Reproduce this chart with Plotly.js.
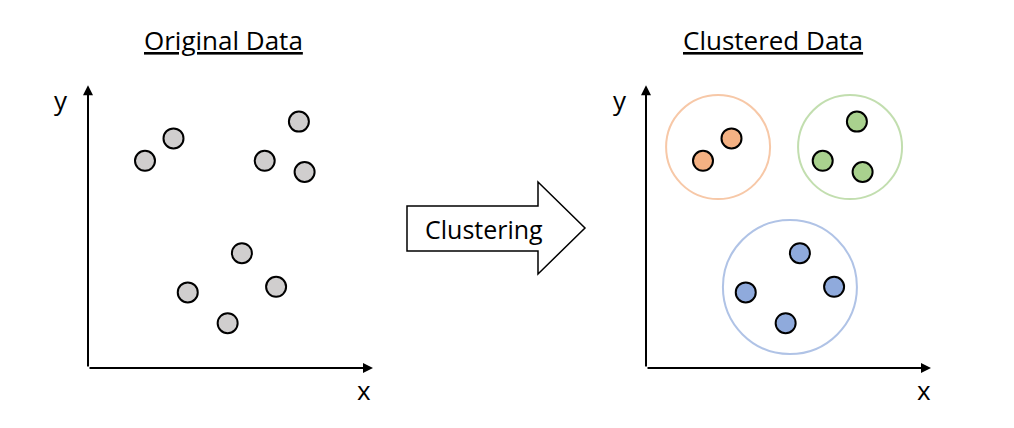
<!DOCTYPE html>
<html>
<head>
<meta charset="utf-8">
<script src="https://cdn.plot.ly/plotly-3.0.1.min.js"></script>
<style>html,body{margin:0;padding:0;background:#fff;}#chart{width:1014px;height:428px;}</style>
</head>
<body>
<div id="chart"></div>
<script>
// ---- data (abstract units, 0-10 on each axis) ----
const pointX = [2.0, 3.0, 6.2, 7.4, 7.6, 5.4, 3.5, 6.6, 4.9];
const pointY = [7.4, 8.2, 7.4, 8.8, 7.0, 4.1, 2.7, 2.9, 1.6];
const clusterOf = [0, 0, 1, 1, 1, 2, 2, 2, 2];
const clusterNames = ["Cluster 1", "Cluster 2", "Cluster 3"];
const clusterCenterX = [2.53, 7.16, 5.05];
const clusterCenterY = [7.89, 7.89, 2.89];
const panelTitles = ["Original Data", "Clustered Data"];
const axisLabels = ["x", "y"];
const arrowLabel = "Clustering";

// ---- styles ----
const FONT = "Open Sans, Noto Sans, sans-serif";
const clusterFill = ["#F4B183", "#A9D18E", "#8FAADC"];
const clusterRing = ["#F4B183", "#A9D18E", "#8FAADC"];
const ringSize = [104, 104, 134];
const grayFill = "#D0CECE";
const W = 1014, H = 428;
const px = v => v / W;
const py = v => 1 - v / H;

const traces = [];
// original data
traces.push({
  x: pointX, y: pointY, xaxis: "x", yaxis: "y", type: "scatter", mode: "markers",
  name: "Original", hoverinfo: "skip",
  marker: {size: 20, color: grayFill, line: {color: "#000", width: 2}}
});
// cluster rings
traces.push({
  x: clusterCenterX, y: clusterCenterY, xaxis: "x2", yaxis: "y2", type: "scatter", mode: "markers",
  name: "Rings", hoverinfo: "skip",
  marker: {size: ringSize, color: "rgba(0,0,0,0)", line: {color: clusterRing, width: 2}}
});
// clustered points
clusterNames.forEach((nm, c) => {
  const xs = [], ys = [];
  pointX.forEach((v, i) => { if (clusterOf[i] === c) { xs.push(v); ys.push(pointY[i]); } });
  traces.push({
    x: xs, y: ys, xaxis: "x2", yaxis: "y2", type: "scatter", mode: "markers",
    name: nm, hoverinfo: "skip",
    marker: {size: 20, color: clusterFill[c], line: {color: "#000", width: 2}}
  });
});

const hiddenAxis = (dom, anchor) => ({
  domain: dom, range: [0, 10], anchor: anchor, showgrid: false, zeroline: false,
  showticklabels: false, showline: false, ticks: "", fixedrange: true
});
const yDom = [(H - 368) / H, (H - 88) / H];

const annotations = [];
// axis arrows
[["x", "y"], ["x2", "y2"]].forEach(([xa, ya]) => {
  annotations.push({xref: xa, yref: ya, axref: xa, ayref: ya, x: 10, y: 0, ax: 0, ay: 0,
    text: "", showarrow: true, arrowhead: 2, arrowsize: 1, arrowwidth: 2, arrowcolor: "#000", standoff: 0, startstandoff: 0});
  annotations.push({xref: xa, yref: ya, axref: xa, ayref: ya, x: 0, y: 10.1, ax: 0, ay: 0,
    text: "", showarrow: true, arrowhead: 2, arrowsize: 1, arrowwidth: 2, arrowcolor: "#000", standoff: 0, startstandoff: 0});
});
// axis labels
[[364, 61], [924, 620]].forEach(([xPos, yPos]) => {
  annotations.push({xref: "paper", yref: "paper", x: px(xPos), y: py(390), text: axisLabels[0],
    showarrow: false, xanchor: "center", yanchor: "middle", font: {family: FONT, size: 26, color: "#000"}});
  annotations.push({xref: "paper", yref: "paper", x: px(yPos), y: py(100), text: axisLabels[1],
    showarrow: false, xanchor: "center", yanchor: "middle", font: {family: FONT, size: 26, color: "#000"}});
});
// titles
[223, 773].forEach((cx, i) => {
  annotations.push({xref: "paper", yref: "paper", x: px(cx), y: py(40), text: "<u>" + panelTitles[i] + "</u>",
    showarrow: false, xanchor: "center", yanchor: "middle", font: {family: FONT, size: 26, color: "#000"}});
});
// arrow label
annotations.push({xref: "paper", yref: "paper", x: px(484), y: py(229), text: arrowLabel,
  showarrow: false, xanchor: "center", yanchor: "middle", font: {family: FONT, size: 25, color: "#000"}});

const arrowPts = [[407, 206], [538, 206], [538, 182], [585, 228], [538, 274], [538, 251], [407, 251]];
const path = "M" + arrowPts.map(p => px(p[0]).toFixed(5) + "," + py(p[1]).toFixed(5)).join(" L") + " Z";

const layout = {
  width: W, height: H, margin: {l: 0, r: 0, t: 0, b: 0},
  paper_bgcolor: "#fff", plot_bgcolor: "rgba(0,0,0,0)", showlegend: false,
  xaxis: hiddenAxis([88 / W, 373 / W], "y"),
  yaxis: hiddenAxis(yDom, "x"),
  xaxis2: hiddenAxis([646 / W, 931 / W], "y2"),
  yaxis2: hiddenAxis(yDom, "x2"),
  shapes: [{type: "path", xref: "paper", yref: "paper", path: path,
    line: {color: "#000", width: 1.5}, fillcolor: "#fff", layer: "below"}],
  annotations: annotations
};

Plotly.newPlot("chart", traces, layout, {staticPlot: true, displayModeBar: false});
</script>
</body>
</html>
